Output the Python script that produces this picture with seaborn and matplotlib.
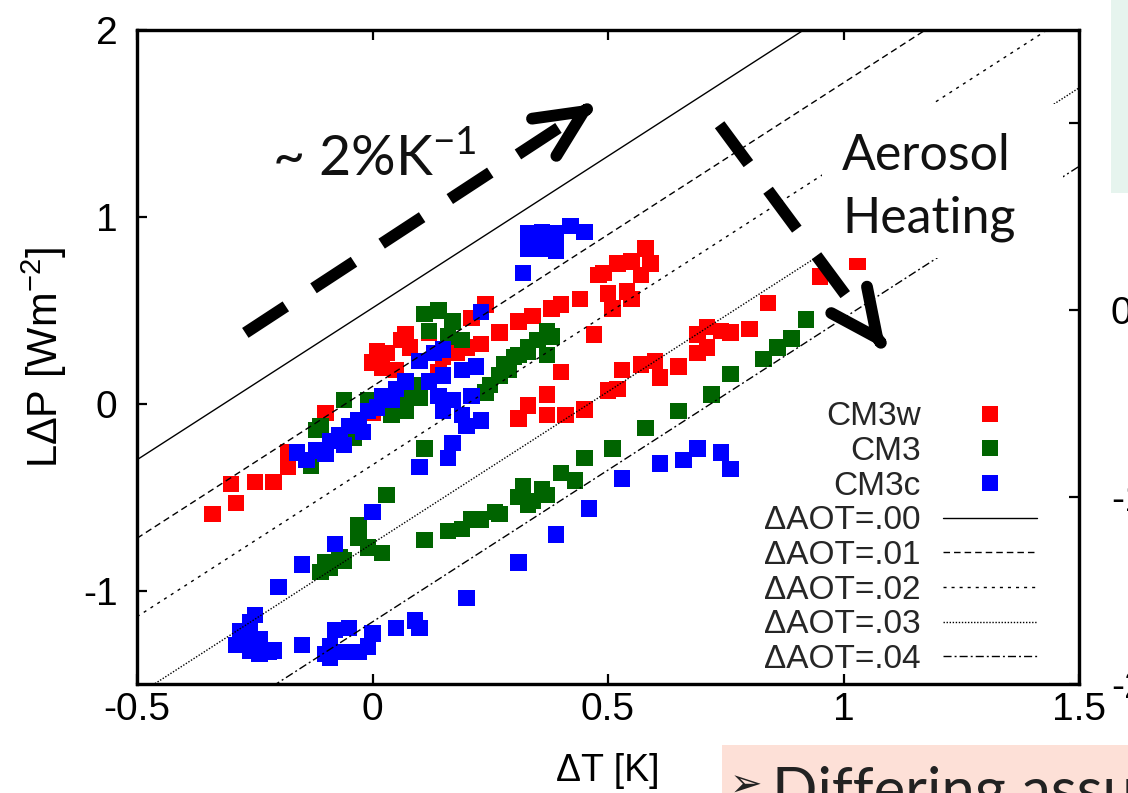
import numpy as np
import pandas as pd
import matplotlib
matplotlib.use("Agg")
import matplotlib.pyplot as plt
import seaborn as sns
from matplotlib.lines import Line2D
from matplotlib.patches import Rectangle

# ---------------- data ----------------
series_names = ["CM3w", "CM3", "CM3c"]
series_colors = ["#ff0000", "#006400", "#0000ff"]

cm3w_x = [-0.34, -0.29, -0.30, -0.25, -0.21, -0.18, -0.18, -0.10, 0.00,
          0.00, 0.01, 0.03, 0.02, 0.06, 0.07, 0.08, 0.12, 0.05,
          0.15, 0.14, 0.18, 0.20, 0.21, 0.24, 0.23, 0.27, 0.31, 0.34, 0.38,
          0.40, 0.44, 0.49, 0.40, 0.47,
          0.48, 0.52, 0.55, 0.58, 0.59, 0.57, 0.50, 0.54, 0.51, 0.55,
          0.37, 0.33, 0.31, 0.37, 0.41, 0.45, 0.50, 0.52, 0.53, 0.57, 0.60,
          0.61, 0.65, 0.69, 0.71, 0.71, 0.69, 0.74, 0.76, 0.80, 0.84, 0.95, 1.03]
cm3w_y = [-0.59, -0.53, -0.43, -0.42, -0.42, -0.26, -0.34, -0.05, -0.05,
          0.22, 0.28, 0.27, 0.19, 0.34, 0.37, 0.30, 0.38, 0.18,
          0.25, 0.17, 0.27, 0.30, 0.46, 0.53, 0.32, 0.38, 0.44, 0.47, 0.51,
          0.53, 0.56, 0.70, 0.17, 0.37,
          0.69, 0.75, 0.76, 0.83, 0.75, 0.69, 0.59, 0.60, 0.51, 0.56,
          0.05, -0.01, -0.08, -0.06, -0.06, -0.03, 0.07, 0.08, 0.18, 0.21, 0.23,
          0.14, 0.20, 0.37, 0.41, 0.30, 0.27, 0.39, 0.38, 0.40, 0.54, 0.68, 0.76]

cm3_x = [-0.13, -0.11, -0.12, -0.06, -0.03, -0.01, -0.04, 0.05, 0.08, 0.10, 0.04, 0.07, 0.10,
         0.11, 0.14, 0.17, 0.12, 0.16, 0.19,
         0.25, 0.27, 0.29, 0.31, 0.33, 0.35, 0.38, 0.37, 0.24, 0.28, 0.30, 0.33, 0.37, 0.29, 0.11,
         0.03, -0.03, -0.03, -0.01, 0.02, -0.07, -0.10, -0.11, -0.09, -0.06,
         0.11, 0.16, 0.19, 0.21, 0.23, 0.26, 0.27, 0.31, 0.33, 0.36, 0.37, 0.40, 0.43,
         0.45, 0.51, 0.58, 0.65, 0.72, 0.76, 0.83, 0.86, 0.89, 0.92, 0.32, 0.34]
cm3_y = [-0.33, -0.12, -0.14, 0.02, -0.13, 0.02, -0.18, 0.02, 0.04, 0.10, -0.06, -0.04, 0.03,
         0.48, 0.50, 0.44, 0.39, 0.36, 0.34,
         0.10, 0.15, 0.20, 0.26, 0.28, 0.34, 0.36, 0.26, 0.06, 0.21, 0.25, 0.30, 0.39, 0.18, -0.24,
         -0.49, -0.65, -0.72, -0.77, -0.80, -0.82, -0.85, -0.90, -0.88, -0.84,
         -0.73, -0.68, -0.67, -0.62, -0.62, -0.58, -0.59, -0.50, -0.54, -0.46, -0.49, -0.37, -0.41,
         -0.29, -0.24, -0.13, -0.04, 0.05, 0.16, 0.24, 0.30, 0.35, 0.45, -0.44, -0.52]

cm3c_x = [0.33, 0.36, 0.39, 0.42, 0.45, 0.33, 0.36, 0.39, 0.32,
          -0.16, -0.14, -0.12, -0.10, -0.09, -0.07, -0.06, -0.05, -0.03, -0.02, -0.01, 0.01,
          0.02, 0.05, 0.07, 0.10, 0.13, 0.15, 0.12, 0.15, 0.19, 0.22, 0.14, 0.17, 0.21,
          0.15, 0.19, 0.20, 0.23, 0.23, 0.17, 0.16, 0.10, 0.04,
          0.00, -0.08, -0.15, -0.20, -0.25, -0.26, -0.28, -0.29, -0.27, -0.26, -0.24, -0.22,
          -0.21, -0.24, -0.15, -0.08, -0.05, -0.09, -0.09, -0.06, -0.03, -0.01, 0.00, -0.10,
          0.05, 0.09, 0.10, 0.20, 0.31, 0.39, 0.46, 0.53, 0.61, 0.66, 0.69, 0.74, 0.76]
cm3c_y = [0.91, 0.92, 0.91, 0.95, 0.92, 0.83, 0.83, 0.82, 0.70,
          -0.26, -0.30, -0.25, -0.27, -0.20, -0.17, -0.22, -0.12, -0.09, -0.15, -0.04, -0.02,
          0.04, 0.08, 0.12, 0.23, 0.27, 0.29, 0.12, 0.15, 0.18, 0.20, 0.04, 0.02, 0.04,
          -0.04, -0.06, -0.12, -0.09, 0.49, -0.21, -0.29, -0.34, 0.02,
          -0.58, -0.75, -0.86, -0.98, -1.13, -1.17, -1.22, -1.29, -1.26, -1.32, -1.34, -1.33,
          -1.32, -1.26, -1.29, -1.21, -1.20, -1.30, -1.36, -1.33, -1.33, -1.30, -1.23, -1.34,
          -1.20, -1.16, -1.20, -1.04, -0.85, -0.70, -0.56, -0.40, -0.32, -0.30, -0.24, -0.26, -0.35]

# reference lines: end points at x = -0.5 and x = 1.5
aot_labels = ["\u0394AOT=.00", "\u0394AOT=.01", "\u0394AOT=.02", "\u0394AOT=.03", "\u0394AOT=.04"]
line_x = [-0.5, 1.5]
line_y_start = [-0.30, -0.72, -1.14, -1.56, -1.98]
line_y_end = [2.95, 2.53, 2.11, 1.69, 1.27]
aot_dashes = ["", (4.7, 2.9), (2.2, 3.6), (1.0, 1.2), (5.8, 2.2, 1.4, 2.2)]

x_ticks = [-0.5, 0, 0.5, 1, 1.5]
x_ticklabels = ["-0.5", "0", "0.5", "1", "1.5"]
y_ticks = [-1, 0, 1, 2]
y_ticklabels = ["-1", "0", "1", "2"]
y2_ticks = [-2, -1, 0, 1]
y2_ticklabels = ["-2", "-1", "0", "1"]

# annotation arrows (data coords): tail, tip, fraction of length covered by the dashed shaft
arrow1_tail, arrow1_tip, arrow1_frac = (-0.270, 0.379), (0.473, 1.605), 0.92
arrow2_tail, arrow2_tip, arrow2_frac = (0.737, 1.493), (1.089, 0.293), 0.775

# ---------------- style ----------------
sns.set_theme(style="ticks")
plt.rcParams["font.family"] = ["Liberation Sans", "DejaVu Sans"]
plt.rcParams["axes.unicode_minus"] = False

W, H = 1128, 793
fig = plt.figure(figsize=(W / 100, H / 100), dpi=100)
fig.patch.set_facecolor("white")
ax = fig.add_axes([137 / W, 1 - 684 / H, 942 / W, 654 / H])
ax.set_facecolor("white")

# scatter points
df = pd.DataFrame({
    "dT": cm3w_x + cm3_x + cm3c_x,
    "LdP": cm3w_y + cm3_y + cm3c_y,
    "run": ["CM3w"] * len(cm3w_x) + ["CM3"] * len(cm3_x) + ["CM3c"] * len(cm3c_x),
})
pal = dict(zip(series_names, series_colors))
sns.scatterplot(data=df, x="dT", y="LdP", hue="run", hue_order=series_names,
                palette=pal, marker="s", s=140, linewidth=0, legend=False,
                ax=ax, zorder=2)

# AOT lines
rows = []
for lab, y0, y1 in zip(aot_labels, line_y_start, line_y_end):
    rows.append({"x": line_x[0], "y": y0, "aot": lab})
    rows.append({"x": line_x[1], "y": y1, "aot": lab})
ldf = pd.DataFrame(rows)
sns.lineplot(data=ldf, x="x", y="y", style="aot", style_order=aot_labels,
             dashes=dict(zip(aot_labels, aot_dashes)), color="black",
             linewidth=1.0, legend=False, estimator=None, sort=False,
             ax=ax, zorder=3)

ax.set_xlim(-0.5, 1.5)
ax.set_ylim(-1.5, 2)
ax.set_xticks(x_ticks)
ax.set_xticklabels(x_ticklabels)
ax.set_yticks(y_ticks)
ax.set_yticklabels(y_ticklabels)
ax.tick_params(axis="x", direction="in", length=7, width=1.6, top=True,
               labelsize=28, pad=6, colors="black")
ax.tick_params(axis="y", direction="in", length=7, width=1.6, right=False,
               labelsize=28, pad=14, colors="black")
for sp in ax.spines.values():
    sp.set_linewidth(2.3)
    sp.set_color("black")
ax.set_xlabel("\u0394T [K]", fontsize=27, labelpad=18, color="black")
ax.set_ylabel(r"L$\mathregular{\Delta}$P [Wm$^{\mathregular{-2}}$]", fontsize=30,
              labelpad=10, color="black")

# right-hand axis of the slide's chart
ax2 = ax.twinx()
ax2.set_ylim(-2, 1.5)
ax2.set_yticks(y2_ticks)
ax2.set_yticklabels(y2_ticklabels)
ax2.tick_params(axis="y", direction="in", length=7, width=1.6, labelsize=28,
                pad=23, colors="black")
for sp in ax2.spines.values():
    sp.set_linewidth(2.3)
    sp.set_color("black")
ax2.grid(False)

# legend
handles = [Line2D([], [], marker="s", linestyle="", color=c, markersize=11.8,
                  markeredgewidth=0) for c in series_colors]
for d in aot_dashes:
    h = Line2D([], [], color="black", linewidth=1.0)
    if d:
        h.set_dashes(d)
    handles.append(h)
labels = series_names + aot_labels
leg = ax.legend(handles, labels, loc="lower right", bbox_to_anchor=(0.955, 0.014),
                frameon=False, fontsize=24, markerfirst=False, handlelength=2.82,
                handletextpad=0.66, labelspacing=0.11, borderpad=0, borderaxespad=0,
                numpoints=1)
leg.set_zorder(7)

# white box behind "Aerosol Heating"
ax.add_patch(Rectangle((0.727, 0.651), 0.256, 0.236, transform=ax.transAxes,
                       facecolor="white", edgecolor="none", zorder=4))

# dashed arrows
def draw_arrow(tail, tip, frac):
    tail = np.array(tail); tip = np.array(tip)
    shaft_end = tail + frac * (tip - tail)
    head_start = tip - 0.03 * (tip - tail)
    ax.annotate("", xy=tuple(shaft_end), xytext=tuple(tail),
                arrowprops=dict(arrowstyle="-", color="black", lw=8.5,
                                linestyle=(0, (4.1, 2.8)), shrinkA=0, shrinkB=0,
                                capstyle="butt"), zorder=6)
    ax.annotate("", xy=tuple(tip), xytext=tuple(head_start),
                arrowprops=dict(arrowstyle="->,head_length=0.34,head_width=0.16",
                                color="black", lw=8.5, shrinkA=0, shrinkB=0,
                                mutation_scale=100), zorder=6)

draw_arrow(arrow1_tail, arrow1_tip, arrow1_frac)
draw_arrow(arrow2_tail, arrow2_tip, arrow2_frac)

slide_font = ["Lato", "DejaVu Sans"]
fig.text(272 / W, 1 - 175 / H, r"~ 2%K$^{\mathregular{-1}}$", fontsize=40,
         family=slide_font, ha="left", va="baseline", color="#111111", zorder=8)
fig.text(842 / W, 1 - 170 / H, "Aerosol", fontsize=36, family=slide_font,
         ha="left", va="baseline", color="#111111", zorder=8)
fig.text(842 / W, 1 - 233 / H, "Heating", fontsize=36, family=slide_font,
         ha="left", va="baseline", color="#111111", zorder=8)

# slide decorations around the chart
fig.add_artist(Rectangle((1111 / W, 1 - 193 / H), (W - 1111) / W, 193 / H,
                         transform=fig.transFigure, facecolor="#e6f4ee",
                         edgecolor="none", zorder=10))
fig.add_artist(Rectangle((722 / W, 0), (W - 722) / W, 48 / H,
                         transform=fig.transFigure, facecolor="#fde0d7",
                         edgecolor="none", zorder=10))
fig.text(730 / W, 1 - 767 / H, "\u27a2", fontsize=28, family=["DejaVu Sans"],
         ha="left", va="top", color="#222222", zorder=11)
fig.text(772 / W, 1 - 766 / H, "Differing assu", fontsize=43, family=slide_font,
         ha="left", va="top", color="#222222", zorder=11)

fig.savefig("out.png", dpi=100)
